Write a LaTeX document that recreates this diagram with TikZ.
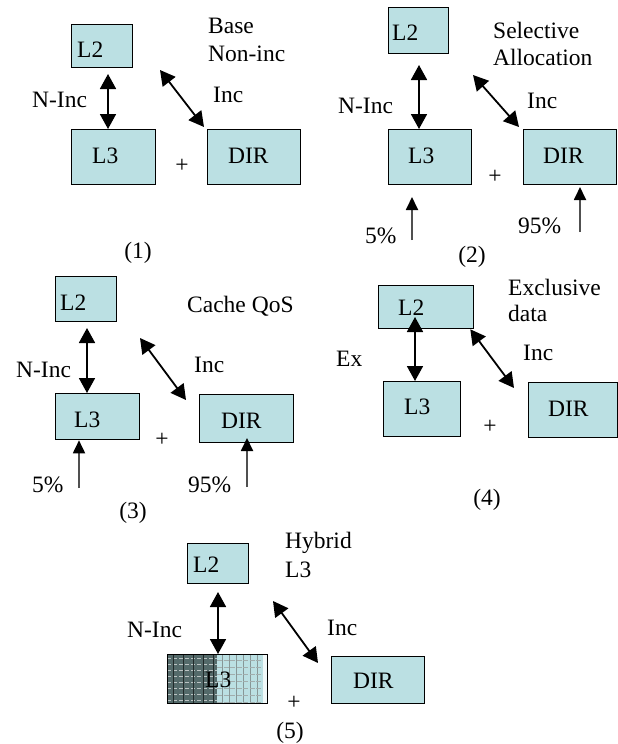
\documentclass[tikz,border=0pt]{standalone}
\usepackage{fontspec}
\setmainfont{Liberation Serif}
\usetikzlibrary{arrows.meta}
\definecolor{boxfill}{RGB}{187,224,227}
\definecolor{hatchdark}{RGB}{84,106,106}
\definecolor{feedgray}{RGB}{80,80,80}
\tikzset{
  cachebox/.style={draw=black, line width=1.3pt, fill=boxfill, inner sep=0pt, anchor=north west},
  lbl/.style={anchor=base west, inner sep=0pt, align=left, font=\fontsize{23.5}{28}\selectfont},
  capt/.style={anchor=base, inner sep=0pt, font=\fontsize{23.5}{28}\selectfont},
  plus/.style={inner sep=0pt, font=\fontsize{23.5}{28}\selectfont},
  link/.style={line width=1.8pt, {Triangle[width=16pt,length=15pt]}-{Triangle[width=16pt,length=15pt]}},
  feed/.style={draw=feedgray, line width=1.8pt, -{Triangle[width=12pt,length=13pt,color=black]}},
}
\begin{document}
\begin{tikzpicture}[x=1pt,y=-1pt]
\useasboundingbox[fill=white] (0,0) rectangle (618,744);

% ---------- (1) base non-inclusive ----------
\node[cachebox, minimum width=61pt, minimum height=43pt] (aL2) at (71,24) {};
\node[cachebox, minimum width=84pt, minimum height=55pt] (aL3) at (71,129) {};
\node[cachebox, minimum width=93pt, minimum height=55pt] (aDIR) at (207,129) {};
\node[lbl] (aL2t) at (77,57) {L2};
\node[lbl] (aL3t) at (92,163) {L3};
\node[lbl] (aDIRt) at (228,163) {DIR};
\node[lbl] (aNinc) at (32,107) {N-Inc};
\node[lbl] (aInc) at (213,102) {Inc};
\node[lbl] (aTitle1) at (208,33) {Base};
\node[lbl] (aTitle2) at (208,61) {Non-inc};
\node[plus] (aPlus) at (182,166) {+};
\node[capt] (aCap) at (138,258) {(1)};
\coordinate (aV) at (108,74);
\coordinate (aD1) at (160,70);
\coordinate (aD2) at (204,127);
\draw[link] (aV) -- (aV |- aL3.north);
\draw[link] (aD1) -- (aD2);

% ---------- (2) selective allocation ----------
\node[cachebox, minimum width=60pt, minimum height=46pt] (bL2) at (388,7) {};
\node[cachebox, minimum width=83pt, minimum height=55pt] (bL3) at (388,129) {};
\node[cachebox, minimum width=93pt, minimum height=55pt] (bDIR) at (523,129) {};
\node[lbl] (bL2t) at (392,40) {L2};
\node[lbl] (bL3t) at (408,163) {L3};
\node[lbl] (bDIRt) at (543,163) {DIR};
\node[lbl] (bNinc) at (338,113) {N-Inc};
\node[lbl] (bInc) at (527,108) {Inc};
\node[lbl] (bTitle1) at (493,38) {Selective};
\node[lbl] (bTitle2) at (493,65) {Allocation};
\node[lbl] (bP5) at (365,243) {5\%};
\node[lbl] (bP95) at (518,233) {95\%};
\node[plus] (bPlus) at (495,177) {+};
\node[capt] (bCap) at (472,262) {(2)};
\coordinate (bV) at (419,65);
\coordinate (bD1) at (473,75);
\coordinate (bD2) at (519,127);
\coordinate (bF1a) at (412,240);
\coordinate (bF1b) at (412,197);
\coordinate (bF2a) at (580,232);
\coordinate (bF2b) at (580,187);
\draw[link] (bV) -- (bV |- bL3.north);
\draw[link] (bD1) -- (bD2);
\draw[feed] (bF1a) -- (bF1b);
\draw[feed] (bF2a) -- (bF2b);

% ---------- (3) cache QoS ----------
\node[cachebox, minimum width=61pt, minimum height=45pt] (cL2) at (55,276) {};
\node[cachebox, minimum width=84pt, minimum height=46pt] (cL3) at (55,393) {};
\node[cachebox, minimum width=94pt, minimum height=48pt] (cDIR) at (199,394) {};
\node[lbl] (cL2t) at (60,310) {L2};
\node[lbl] (cL3t) at (74,427) {L3};
\node[lbl] (cDIRt) at (221,428) {DIR};
\node[lbl] (cNinc) at (16,377) {N-Inc};
\node[lbl] (cInc) at (194,372) {Inc};
\node[lbl] (cTitle) at (187,312) {Cache QoS};
\node[lbl] (cP5) at (32,492) {5\%};
\node[lbl] (cP95) at (188,492) {95\%};
\node[plus] (cPlus) at (162,440) {+};
\node[capt] (cCap) at (133,518) {(3)};
\coordinate (cV) at (87,328);
\coordinate (cD1) at (140,338);
\coordinate (cD2) at (186,400);
\coordinate (cF1a) at (79,488);
\coordinate (cF2a) at (247,487);
\coordinate (cF2b) at (247,438);
\draw[link] (cV) -- (cV |- cL3.north);
\draw[link] (cD1) -- (cD2);
\draw[feed] (cF1a) -- (cF1a |- cL3.south);
\draw[feed] (cF2a) -- (cF2b);

% ---------- (4) exclusive data ----------
\node[cachebox, minimum width=95pt, minimum height=43pt] (dL2) at (378,285) {};
\node[cachebox, minimum width=77pt, minimum height=55pt] (dL3) at (383,381) {};
\node[cachebox, minimum width=89pt, minimum height=55pt] (dDIR) at (528,382) {};
\node[lbl] (dL2t) at (398,315) {L2};
\node[lbl] (dL3t) at (404,414) {L3};
\node[lbl] (dDIRt) at (548,416) {DIR};
\node[lbl] (dEx) at (336,366) {Ex};
\node[lbl] (dInc) at (523,360) {Inc};
\node[lbl] (dTitle1) at (508,295) {Exclusive};
\node[lbl] (dTitle2) at (508,321) {data};
\node[plus] (dPlus) at (490,427) {+};
\node[capt] (dCap) at (487,505) {(4)};
\coordinate (dV) at (415,317);
\coordinate (dD2) at (514,388);
\draw[link] (dV) -- (dV |- dL3.north);
\draw[link] ([xshift=-4pt]dL2.south east) -- (dD2);

% ---------- (5) hybrid L3 ----------
\node[cachebox, minimum width=61pt, minimum height=40pt] (eL2) at (187,543) {};
\begin{scope}
  \clip (167,654) rectangle (267,703);
  \fill[hatchdark] (167,654) rectangle (217,703);
  \fill[boxfill] (217,654) rectangle (267,703);
  \foreach \yy in {658,664,...,703}
    \draw[white!60!hatchdark, line width=1pt, dash pattern=on 4pt off 2pt] (167,\yy) -- (217,\yy);
  \foreach \xx in {173,183,...,215}
    \draw[black!60!hatchdark, line width=0.6pt] (\xx,654) -- (\xx,703);
  \foreach \xx in {222,229,...,265}
    \draw[hatchdark!70, line width=0.7pt] (\xx,654) -- (\xx,703);
  \foreach \yy in {660,667,...,703}
    \draw[hatchdark!55, line width=0.6pt, dash pattern=on 5pt off 1.5pt] (217,\yy) -- (267,\yy);
  \fill[white!80!boxfill] (263,654) rectangle (267,703);
\end{scope}
\node[draw=black, line width=1.3pt, inner sep=0pt, anchor=north west,
      minimum width=100pt, minimum height=49pt] (eL3) at (167,654) {};
\node[cachebox, minimum width=93pt, minimum height=47pt] (eDIR) at (331,656) {};
\node[lbl] (eL2t) at (193,572) {L2};
\node[lbl] (eL3t) at (205,687) {L3};
\node[lbl] (eDIRt) at (353,688) {DIR};
\node[lbl] (eNinc) at (127,637) {N-Inc};
\node[lbl] (eInc) at (327,635) {Inc};
\node[lbl] (eTitle1) at (285,548) {Hybrid};
\node[lbl] (eTitle2) at (285,577) {L3};
\node[plus] (ePlus) at (294,703) {+};
\node[capt] (eCap) at (290,738) {(5)};
\coordinate (eV) at (218,592);
\coordinate (eD1) at (273,601);
\coordinate (eD2) at (318,663);
\draw[link] (eV) -- (eV |- eL3.north);
\draw[link] (eD1) -- (eD2);
\end{tikzpicture}
\end{document}
